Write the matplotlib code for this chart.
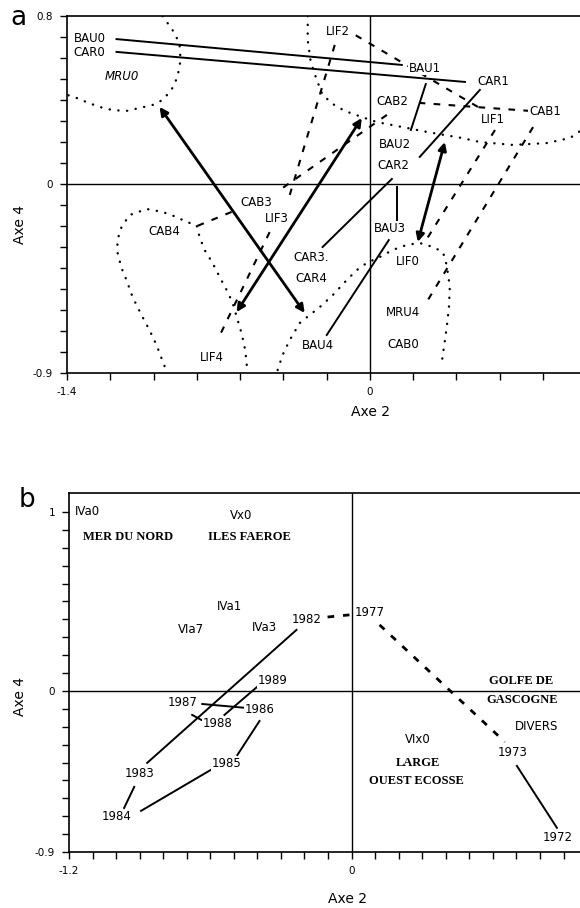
import matplotlib
matplotlib.use("Agg")
import matplotlib.pyplot as plt
import numpy as np

# ---------------- panel a ----------------
# point labels
a_names = ["BAU0", "CAR0", "LIF2", "BAU1", "CAR1", "CAB2", "LIF1", "CAB1",
           "BAU2", "CAR2", "CAB3", "LIF3", "CAB4", "BAU3", "CAR3.", "CAR4",
           "LIF0", "MRU4", "CAB0", "BAU4", "LIF4"]
a_name_x = [-1.296, -1.296, -0.148, 0.255, 0.569, 0.106, 0.569, 0.810,
            0.116, 0.111, -0.523, -0.431, -0.949, 0.093, -0.269, -0.269,
            0.176, 0.153, 0.153, -0.241, -0.731]
a_name_y = [0.695, 0.624, 0.724, 0.552, 0.490, 0.395, 0.305, 0.343,
            0.190, 0.086, -0.090, -0.162, -0.224, -0.210, -0.348, -0.448,
            -0.371, -0.614, -0.762, -0.767, -0.824]
mru0_xy = (-1.144, 0.510)

# solid trajectory segments (BAU, CAR)
a_solid = [((-1.171, 0.690), (0.148, 0.567)),    # BAU0-BAU1
           ((-1.171, 0.629), (0.440, 0.486)),    # CAR0-CAR1
           ((0.259, 0.476), (0.190, 0.257)),     # BAU1-BAU2
           ((0.509, 0.448), (0.231, 0.129)),     # CAR1-CAR2
           ((0.102, 0.024), (-0.218, -0.300)),   # CAR2-CAR3
           ((0.125, -0.014), (0.125, -0.171)),   # BAU2-BAU3
           ((0.088, -0.267), (-0.199, -0.719))]  # BAU3-BAU4

# dashed trajectory segments (LIF, CAB)
a_dashed = [((0.500, 0.367), (-0.083, 0.719)),   # LIF1-LIF2
            ((-0.162, 0.662), (-0.370, -0.052)), # LIF2-LIF3
            ((-0.463, -0.229), (-0.704, -0.743)),# LIF3-LIF4
            ((0.579, 0.257), (0.255, -0.276)),   # LIF1-LIF0
            ((0.741, 0.348), (0.231, 0.386)),    # CAB1-CAB2
            ((0.079, 0.329), (-0.417, -0.029)),  # CAB2-CAB3
            ((-0.639, -0.133), (-0.810, -0.205)),# CAB3-CAB4
            ((0.755, 0.271), (0.269, -0.552))]   # CAB1-CAB0

# double arrows
a_arrows = [((-0.972, 0.367), (-0.301, -0.614)),
            ((-0.037, 0.314), (-0.616, -0.610)),
            ((0.347, 0.200), (0.222, -0.276))]

# dotted envelopes
env_mru0_x = [-0.958, -0.912, -0.880, -0.875, -0.889, -0.917, -0.958, -1.005,
              -1.065, -1.125, -1.190, -1.250, -1.310, -1.356, -1.398]
env_mru0_y = [0.800, 0.733, 0.671, 0.590, 0.510, 0.448, 0.400, 0.376,
              0.362, 0.348, 0.352, 0.367, 0.390, 0.410, 0.424]
env_top_x = [-0.287, -0.287, -0.273, -0.245, -0.218, -0.171, -0.116, -0.037,
             0.032, 0.102, 0.171, 0.264, 0.347, 0.426, 0.509, 0.662, 0.819,
             0.926, 0.972]
env_top_y = [0.800, 0.686, 0.581, 0.495, 0.424, 0.381, 0.348, 0.319,
             0.295, 0.281, 0.267, 0.248, 0.233, 0.219, 0.200, 0.186, 0.195,
             0.219, 0.252]
env_cab4_x = [-0.949, -0.986, -1.019, -1.051, -1.097, -1.125, -1.148, -1.167,
              -1.167, -1.148, -1.111, -1.032, -0.958, -0.894, -0.847, -0.801,
              -0.787, -0.764, -0.727, -0.694, -0.657, -0.634, -0.611, -0.593,
              -0.579, -0.569, -0.569]
env_cab4_y = [-0.867, -0.767, -0.695, -0.633, -0.538, -0.457, -0.400, -0.324,
              -0.267, -0.205, -0.148, -0.119, -0.133, -0.157, -0.181, -0.195,
              -0.252, -0.314, -0.376, -0.443, -0.514, -0.567, -0.648, -0.710,
              -0.776, -0.848, -0.900]
env_lif0_x = [-0.426, -0.403, -0.370, -0.324, -0.278, -0.231, -0.171, -0.106,
              -0.060, -0.014, 0.046, 0.106, 0.171, 0.231, 0.292, 0.338, 0.352,
              0.361, 0.370, 0.366, 0.356, 0.343, 0.333]
env_lif0_y = [-0.886, -0.814, -0.743, -0.662, -0.624, -0.586, -0.529, -0.457,
              -0.410, -0.376, -0.348, -0.314, -0.290, -0.281, -0.300, -0.324,
              -0.371, -0.424, -0.490, -0.586, -0.681, -0.776, -0.848]

# ---------------- panel b ----------------
b_names = ["IVa0", "Vx0", "IVa1", "VIa7", "IVa3", "1982", "1977", "1989",
           "1987", "1986", "1988", "1985", "1983", "1984", "DIVERS", "VIx0",
           "1973", "1972"]
b_name_x = [-1.123, -0.468, -0.519, -0.681, -0.370, -0.191, 0.077, -0.336,
            -0.719, -0.391, -0.570, -0.532, -0.902, -0.996, 0.787, 0.281,
            0.685, 0.877]
b_name_y = [1.000, 0.983, 0.469, 0.346, 0.352, 0.397, 0.436, 0.056,
            -0.067, -0.101, -0.184, -0.408, -0.464, -0.704, -0.201, -0.274,
            -0.346, -0.821]
zones = ["MER DU NORD", "ILES FAEROE", "GOLFE DE", "GASCOGNE", "LARGE", "OUEST ECOSSE"]
zone_x = [-0.949, -0.434, 0.719, 0.723, 0.281, 0.277]
zone_y = [0.860, 0.860, 0.056, -0.050, -0.402, -0.503]

b_solid = [((-0.234, 0.341), (-0.868, -0.402)),  # 1982-1983
           ((-0.923, -0.536), (-0.966, -0.654)), # 1983-1984
           ((-0.894, -0.670), (-0.591, -0.436)), # 1984-1985
           ((-0.485, -0.358), (-0.391, -0.168)), # 1985-1986
           ((-0.447, -0.095), (-0.634, -0.073)), # 1986-1987
           ((-0.677, -0.134), (-0.638, -0.162)), # 1987-1988
           ((-0.540, -0.134), (-0.391, 0.034)),  # 1988-1989
           ((0.702, -0.419), (0.872, -0.765))]   # 1973-1972
b_dashed = [((-0.102, 0.413), (-0.009, 0.425)),  # 1982-1977
            ((0.119, 0.369), (0.651, -0.285))]   # 1977-1973

lab_font = "DejaVu Sans"
zone_font = "Liberation Serif"
box = dict(facecolor="white", edgecolor="none", pad=0.6)
dot = (0, (0.1, 3.6))

fig = plt.figure(figsize=(5.8, 9.08), dpi=100)
axa = fig.add_axes([67/580, 1-373/908, 513/580, 357/908])
axb = fig.add_axes([69/580, 1-852/908, 511/580, 359/908])

for ax in (axa, axb):
    ax.spines["right"].set_visible(False)
    for s in ("left", "bottom", "top"):
        ax.spines[s].set_linewidth(1.2)
    ax.axhline(0, color="black", lw=1.0, zorder=1)
    ax.axvline(0, color="black", lw=1.0, zorder=1)
    ax.tick_params(direction="out", length=5, width=1, labelsize=7.5, pad=5)

# panel a axes
axa.set_xlim(-1.4, 0.972)
axa.set_ylim(-0.9, 0.8)
xt = np.round(np.arange(-1.4, 0.81, 0.2), 2)
yt = np.round(np.arange(-0.9, 0.81, 0.1), 2)
axa.set_xticks(xt)
axa.set_xticklabels(["-1.4" if v == -1.4 else ("0" if v == 0 else "") for v in xt])
axa.set_yticks(yt)
axa.set_yticklabels(["0.8" if v == 0.8 else ("0" if v == 0 else ("-0.9" if v == -0.9 else "")) for v in yt])

for (p, q) in a_solid:
    axa.plot([p[0], q[0]], [p[1], q[1]], color="black", lw=1.4, zorder=2)
for (p, q) in a_dashed:
    axa.plot([p[0], q[0]], [p[1], q[1]], color="black", lw=1.5,
             linestyle=(0, (3.2, 4.0)), zorder=2)
for (p, q) in a_arrows:
    axa.annotate("", xy=q, xytext=p,
                 arrowprops=dict(arrowstyle="<|-|>", lw=2.0, color="black",
                                 mutation_scale=12, shrinkA=0, shrinkB=0), zorder=3)
for ex, ey in [(env_mru0_x, env_mru0_y), (env_top_x, env_top_y),
               (env_cab4_x, env_cab4_y), (env_lif0_x, env_lif0_y)]:
    axa.plot(ex, ey, color="black", lw=1.7, linestyle=dot,
             dash_capstyle="round", zorder=2)

for n, x, y in zip(a_names, a_name_x, a_name_y):
    axa.text(x, y, n, fontsize=8.5, family=lab_font, ha="center", va="center",
             bbox=box, zorder=4)
axa.text(mru0_xy[0], mru0_xy[1], "MRU0", fontsize=8.5, family=lab_font,
         style="italic", ha="center", va="center", zorder=4)

# panel b axes
axb.set_xlim(-1.2, 0.970)
axb.set_ylim(-0.9, 1.106)
xt = np.round(np.arange(-1.2, 0.91, 0.1), 2)
yt = np.round(np.arange(-0.9, 1.01, 0.1), 2)
axb.set_xticks(xt)
axb.set_xticklabels(["-1.2" if v == -1.2 else ("0" if v == 0 else "") for v in xt])
axb.set_yticks(yt)
axb.set_yticklabels(["1" if v == 1.0 else ("0" if v == 0 else ("-0.9" if v == -0.9 else "")) for v in yt])

for (p, q) in b_solid:
    axb.plot([p[0], q[0]], [p[1], q[1]], color="black", lw=1.4, zorder=2)
for (p, q) in b_dashed:
    axb.plot([p[0], q[0]], [p[1], q[1]], color="black", lw=2.0,
             linestyle=(0, (2.4, 3.2)), zorder=2)

for n, x, y in zip(b_names, b_name_x, b_name_y):
    axb.text(x, y, n, fontsize=8.5, family=lab_font, ha="center", va="center",
             bbox=box, zorder=4)
for n, x, y in zip(zones, zone_x, zone_y):
    axb.text(x, y, n, fontsize=9, family=zone_font, weight="bold",
             ha="center", va="center", zorder=4)

# axis titles and panel letters
fig.text(20/580, 1-225/908, "Axe 4", rotation=90, fontsize=10, ha="center", va="center")
fig.text(370/580, 1-412/908, "Axe 2", fontsize=10, ha="center", va="center")
fig.text(20/580, 1-696/908, "Axe 4", rotation=90, fontsize=10, ha="center", va="center")
fig.text(347/580, 1-899/908, "Axe 2", fontsize=10, ha="center", va="center")
fig.text(18/580, 1-18/908, "a", fontsize=19, ha="center", va="center")
fig.text(27/580, 1-500/908, "b", fontsize=19, ha="center", va="center")

plt.savefig("out.png", dpi=100)
